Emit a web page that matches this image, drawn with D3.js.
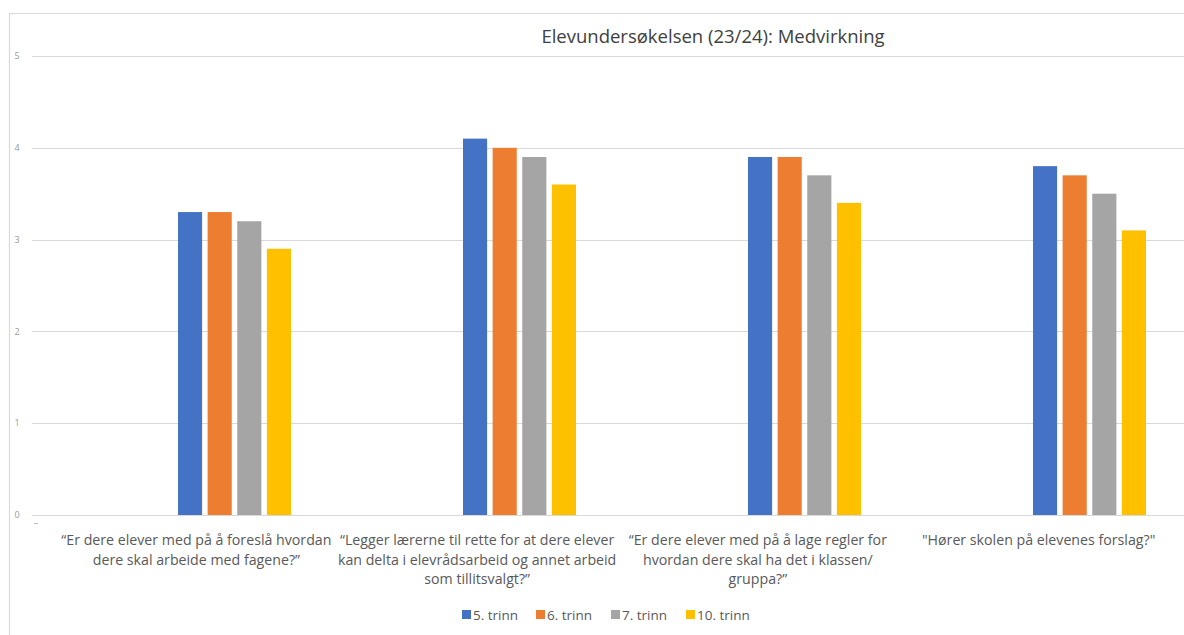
<!DOCTYPE html>
<html>
<head>
<meta charset="utf-8">
<script src="https://cdn.jsdelivr.net/npm/d3@7"></script>
<style>
  html, body { margin: 0; padding: 0; background: #fff; }
  svg { display: block; font-family: "Open Sans", "Noto Sans", sans-serif; }
</style>
</head>
<body>
<svg id="chart"></svg>
<script>
// ── Data ──────────────────────────────────────────────────────────────────────
const categories = [
  ["“Er dere elever med på å foreslå hvordan", "dere skal arbeide med fagene?”"],
  ["“Legger lærerne til rette for at dere elever", "kan delta i elevrådsarbeid og annet arbeid", "som tillitsvalgt?”"],
  ["“Er dere elever med på å lage regler for", "hvordan dere skal ha det i klassen/", "gruppa?”"],
  ["\"Hører skolen på elevenes forslag?\""]
];
const seriesNames = ["5. trinn", "6. trinn", "7. trinn", "10. trinn"];
const trinn5  = [3.3, 4.1, 3.9, 3.8];
const trinn6  = [3.3, 4.0, 3.9, 3.7];
const trinn7  = [3.2, 3.9, 3.7, 3.5];
const trinn10 = [2.9, 3.6, 3.4, 3.1];
const yTicks = [0, 1, 2, 3, 4, 5];
const title = "Elevundersøkelsen (23/24): Medvirkning";

const seriesValues = [trinn5, trinn6, trinn7, trinn10];
const colors = ["#4472C4", "#ED7D31", "#A5A5A5", "#FFC000"];

// ── Layout ────────────────────────────────────────────────────────────────────
const W = 1184, H = 635;
const svg = d3.select("#chart").attr("width", W).attr("height", H);

const catIdx = categories.map((_, i) => i);
const x = d3.scaleBand().domain(catIdx).range([92, 1232]);
const x1 = d3.scaleBand().domain(seriesNames)
  .range([x.bandwidth() / 2 - 56.5, x.bandwidth() / 2 + 56.5])
  .paddingInner(0.186);
const xLabel = d3.scaleBand().domain(catIdx).range([56, 1179]);
const y = d3.scaleLinear().domain([0, 5]).range([515, 56]);

// ── Frame ─────────────────────────────────────────────────────────────────────
svg.append("path")
  .attr("d", `M9.5,${H} V13.5 H${W}`)
  .attr("fill", "none").attr("stroke", "#d9d9d9").attr("stroke-width", 1.2);

// ── Gridlines + y labels ──────────────────────────────────────────────────────
const grid = svg.append("g");
grid.selectAll("line").data(yTicks).join("line")
  .attr("x1", 32).attr("x2", W)
  .attr("y1", d => Math.round(y(d)) + 0.5).attr("y2", d => Math.round(y(d)) + 0.5)
  .attr("stroke", "#d9d9d9").attr("stroke-width", 1.2);
grid.selectAll("text").data(yTicks).join("text")
  .attr("x", 17).attr("y", d => y(d)).attr("dy", "0.35em")
  .attr("text-anchor", "middle")
  .attr("font-size", 9).attr("fill", "#9a9a9a")
  .text(d => d);
// tiny tick below the axis
svg.append("line").attr("x1", 34).attr("x2", 38).attr("y1", 523.5).attr("y2", 523.5)
  .attr("stroke", "#bfbfbf");

// ── Bars ──────────────────────────────────────────────────────────────────────
const groups = svg.append("g").selectAll("g").data(catIdx).join("g")
  .attr("transform", i => `translate(${x(i)},0)`);
groups.selectAll("rect")
  .data(i => seriesNames.map((s, k) => ({ s, k, v: seriesValues[k][i] })))
  .join("rect")
  .attr("x", d => x1(d.s))
  .attr("width", x1.bandwidth())
  .attr("y", d => y(d.v))
  .attr("height", d => y(0) - y(d.v))
  .attr("fill", d => colors[d.k]);

// ── Category labels ───────────────────────────────────────────────────────────
const lab = svg.append("g").selectAll("text").data(catIdx).join("text")
  .attr("text-anchor", "middle")
  .attr("font-size", 14.2).attr("fill", "#595959");
lab.each(function (i) {
  const t = d3.select(this);
  categories[i].forEach((line, j) => {
    t.append("tspan")
      .attr("x", xLabel(i) + xLabel.bandwidth() / 2)
      .attr("y", 545 + j * 19.5)
      .text(line);
  });
});

// ── Title ─────────────────────────────────────────────────────────────────────
svg.append("text")
  .attr("x", 713).attr("y", 43)
  .attr("text-anchor", "middle")
  .attr("font-size", 18.5).attr("fill", "#404040")
  .text(title);

// ── Legend ────────────────────────────────────────────────────────────────────
const legendX = [462, 536, 611, 686];
const lg = svg.append("g").selectAll("g").data(seriesNames).join("g")
  .attr("transform", (d, k) => `translate(${legendX[k]},615)`);
lg.append("rect").attr("x", 0).attr("y", -5).attr("width", 9).attr("height", 9)
  .attr("fill", (d, k) => colors[k]);
lg.append("text").attr("x", 11).attr("y", 0).attr("dy", "0.35em")
  .attr("font-size", 13.5).attr("fill", "#595959")
  .text(d => d);
</script>
</body>
</html>
